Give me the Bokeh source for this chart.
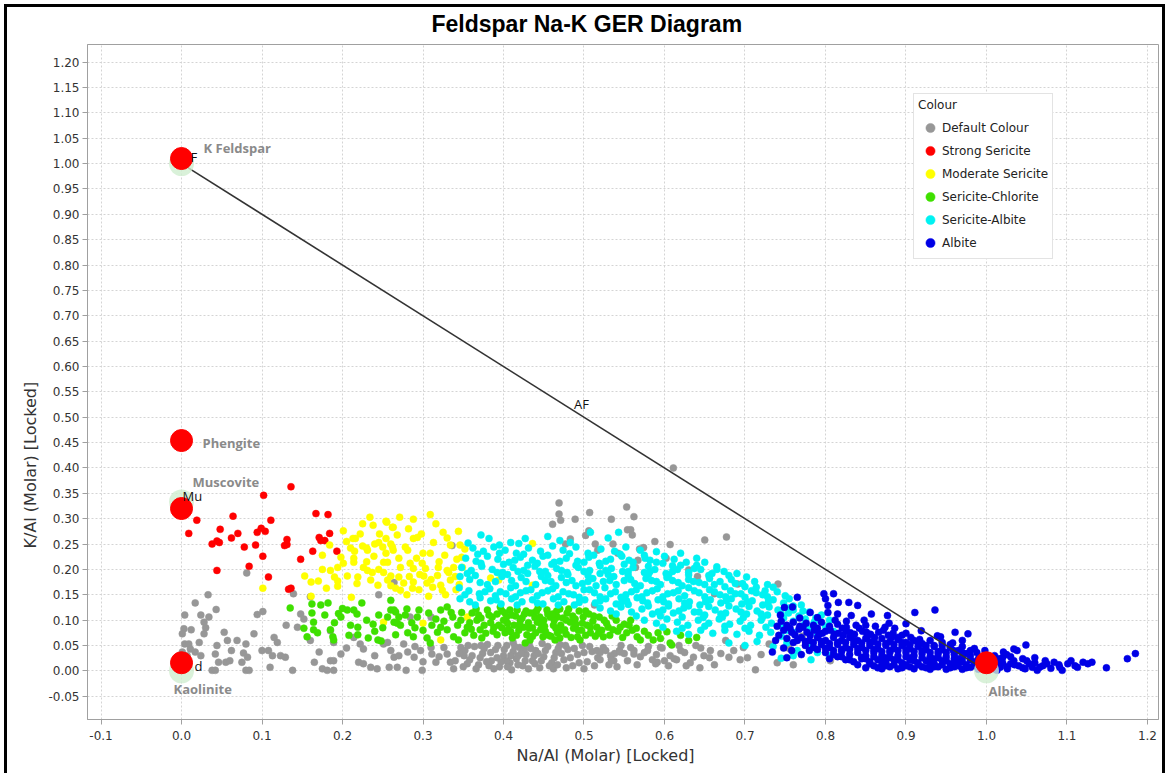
from bokeh.plotting import figure
from bokeh.models import (Range1d, FixedTicker, Legend, LegendItem,
                          NumeralTickFormatter, InlineStyleSheet, Title)
from bokeh.core.properties import value
from bokeh.embed import file_html
from bokeh.resources import INLINE

# ---------------------------------------------------------------------------
# Sample data: Na/Al (molar) vs K/Al (molar), grouped by alteration colour
# ---------------------------------------------------------------------------
default_colour = [
    (0.033, 0.150), (0.017, 0.134), (0.043, 0.121), (0.004, 0.110), (0.024, 0.110),
    (0.034, 0.106), (0.028, 0.096), (0.094, 0.111), (0.101, 0.117), (0.081, 0.193),
    (0.003, 0.083), (0.001, 0.073), (0.012, 0.081), (0.028, 0.073), (0.004, 0.053),
    (0.009, 0.053), (0.011, 0.043), (0.001, 0.037), (0.007, 0.030), (0.022, 0.056),
    (0.017, 0.037), (0.024, 0.030), (0.044, 0.050), (0.042, 0.033), (0.053, 0.076),
    (0.057, 0.060), (0.055, 0.017), (0.046, 0.017), (0.038, 0.001), (0.042, 0.001),
    (0.069, 0.060), (0.062, 0.040), (0.077, 0.035), (0.082, 0.027), (0.075, 0.017),
    (0.080, 0.001), (0.084, 0.001), (0.080, 0.053), (0.090, 0.073), (0.108, 0.040),
    (0.113, 0.030), (0.115, 0.066), (0.119, 0.056), (0.110, 0.007), (0.123, 0.030),
    (0.129, 0.027), (0.138, 0.001), (0.144, 0.086), (0.139, 0.152), (0.160, 0.146),
    (0.148, 0.112), (0.152, 0.102), (0.171, 0.037), (0.165, 0.017), (0.175, 0.004),
    (0.181, 0.001), (0.189, 0.001), (0.185, 0.020), (0.189, 0.020), (0.198, 0.033),
    (0.185, 0.079), (0.189, 0.056), (0.214, 0.066), (0.222, 0.053), (0.226, 0.043),
    (0.220, 0.017), (0.226, 0.014), (0.235, 0.007), (0.243, 0.004), (0.245, 0.150),
    (0.251, 0.053), (0.260, 0.040), (0.264, 0.027), (0.258, 0.007), (0.264, 0.174),
    (0.336, 0.247), (0.284, 0.106), (0.310, 0.106), (0.256, 0.056), (0.268, 0.007),
    (0.276, 0.053), (0.281, 0.037), (0.279, 0.001), (0.289, 0.027), (0.299, 0.001),
    (0.297, 0.040), (0.311, 0.033), (0.316, 0.017), (0.326, 0.046), (0.330, 0.033),
    (0.334, 0.017), (0.338, 0.004), (0.347, 0.046), (0.351, 0.030), (0.355, 0.014),
    (0.352, 0.040), (0.358, 0.022), (0.364, 0.048), (0.369, 0.012), (0.374, 0.034),
    (0.380, 0.052), (0.385, 0.020), (0.390, 0.042), (0.395, 0.008), (0.400, 0.030),
    (0.404, 0.050), (0.408, 0.016), (0.412, 0.038), (0.416, 0.024), (0.420, 0.046),
    (0.424, 0.010), (0.428, 0.032), (0.432, 0.052), (0.436, 0.020), (0.440, 0.040),
    (0.445, 0.006), (0.450, 0.028), (0.455, 0.048), (0.460, 0.016), (0.465, 0.036),
    (0.470, 0.052), (0.475, 0.022), (0.480, 0.042), (0.486, 0.010), (0.492, 0.032),
    (0.498, 0.050), (0.504, 0.018), (0.510, 0.038), (0.517, 0.026), (0.524, 0.046),
    (0.531, 0.012), (0.538, 0.034), (0.546, 0.050), (0.554, 0.020), (0.562, 0.040),
    (0.570, 0.028), (0.580, 0.048), (0.590, 0.032), (0.600, 0.020), (0.410, 0.002),
    (0.418, 0.030), (0.426, 0.042), (0.438, 0.030), (0.392, 0.026), (0.382, 0.010),
    (0.372, 0.050), (0.462, 0.004), (0.478, 0.006), (0.500, 0.004), (0.448, 0.054),
    (0.412, 0.056), (0.520, 0.036), (0.544, 0.040), (0.468, 0.044), (0.404, 0.020),
    (0.516, 0.040), (0.533, 0.030), (0.537, 0.020), (0.545, 0.037), (0.562, 0.033),
    (0.579, 0.040), (0.591, 0.017), (0.607, 0.030), (0.612, 0.024), (0.469, 0.331),
    (0.469, 0.309), (0.471, 0.297), (0.461, 0.289), (0.507, 0.312), (0.489, 0.299),
    (0.483, 0.260), (0.477, 0.250), (0.506, 0.276), (0.502, 0.267), (0.611, 0.400),
    (0.553, 0.323), (0.534, 0.299), (0.562, 0.304), (0.554, 0.278), (0.558, 0.278),
    (0.560, 0.268), (0.514, 0.250), (0.517, 0.238), (0.536, 0.250), (0.542, 0.232),
    (0.569, 0.240), (0.574, 0.243), (0.588, 0.255), (0.607, 0.249), (0.567, 0.218),
    (0.564, 0.204), (0.602, 0.222), (0.630, 0.199), (0.641, 0.186), (0.650, 0.258),
    (0.677, 0.264), (0.691, 0.171), (0.741, 0.171), (0.662, 0.152), (0.513, 0.130),
    (0.771, 0.068), (0.597, 0.045), (0.620, 0.040), (0.615, 0.022), (0.589, 0.014),
    (0.639, 0.050), (0.645, 0.045), (0.636, 0.027), (0.649, 0.030), (0.657, 0.040),
    (0.656, 0.026), (0.676, 0.060), (0.680, 0.027), (0.694, 0.022), (0.703, 0.026),
    (0.713, 0.002), (0.730, 0.053), (0.806, 0.020), (0.698, 0.046), (0.627, 0.010),
    (0.340, 0.020), (0.345, 0.034), (0.350, 0.008), (0.356, 0.050), (0.361, 0.030),
    (0.366, 0.004), (0.371, 0.026), (0.376, 0.044), (0.379, 0.018), (0.384, 0.036),
    (0.388, 0.004), (0.393, 0.050), (0.397, 0.018), (0.401, 0.042), (0.405, 0.008),
    (0.409, 0.030), (0.414, 0.048), (0.418, 0.012), (0.422, 0.034), (0.427, 0.020),
    (0.431, 0.004), (0.434, 0.044), (0.439, 0.014), (0.443, 0.034), (0.447, 0.020),
    (0.452, 0.040), (0.457, 0.010), (0.463, 0.026), (0.467, 0.012), (0.472, 0.034),
    (0.477, 0.050), (0.483, 0.026), (0.488, 0.044), (0.494, 0.016), (0.500, 0.036),
    (0.507, 0.048), (0.513, 0.010), (0.520, 0.022), (0.527, 0.040), (0.534, 0.022),
    (0.541, 0.008), (0.550, 0.034), (0.558, 0.046), (0.566, 0.012), (0.575, 0.036),
    (0.585, 0.022), (0.595, 0.046), (0.605, 0.010), (0.618, 0.050), (0.625, 0.036),
    (0.632, 0.016), (0.644, 0.006), (0.662, 0.012), (0.670, 0.034), (0.686, 0.040),
    (0.720, 0.032), (0.740, 0.016), (0.755, 0.044), (0.760, 0.012), (0.310, 0.046),
    (0.320, 0.028), (0.300, 0.018), (0.290, 0.048), (0.270, 0.030), (0.240, 0.030),
    (0.205, 0.045), (0.160, 0.060), (0.130, 0.090), (0.100, 0.040), (0.060, 0.020),
    (0.030, 0.085),
]

strong_sericite = [
    (0.136, 0.363), (0.102, 0.346), (0.019, 0.297), (0.064, 0.305), (0.009, 0.271),
    (0.048, 0.279), (0.070, 0.271), (0.062, 0.262), (0.044, 0.256), (0.047, 0.253),
    (0.038, 0.250), (0.078, 0.244), (0.092, 0.248), (0.094, 0.273), (0.099, 0.281),
    (0.104, 0.275), (0.111, 0.297), (0.101, 0.226), (0.084, 0.206), (0.044, 0.198),
    (0.108, 0.185), (0.133, 0.161), (0.136, 0.163), (0.148, 0.220), (0.163, 0.236),
    (0.131, 0.259), (0.131, 0.249), (0.128, 0.247), (0.171, 0.263), (0.173, 0.257),
    (0.178, 0.257), (0.167, 0.310), (0.182, 0.308), (0.184, 0.271), (0.193, 0.236),
]

moderate_sericite = [
    (0.201, 0.276), (0.213, 0.261), (0.216, 0.261), (0.234, 0.303), (0.238, 0.287),
    (0.254, 0.295), (0.262, 0.283), (0.254, 0.261), (0.184, 0.248), (0.210, 0.242),
    (0.215, 0.236), (0.225, 0.246), (0.230, 0.242), (0.231, 0.238), (0.245, 0.253),
    (0.250, 0.244), (0.262, 0.244), (0.263, 0.238), (0.175, 0.228), (0.198, 0.224),
    (0.201, 0.212), (0.214, 0.222), (0.214, 0.214), (0.239, 0.226), (0.254, 0.232),
    (0.256, 0.214), (0.194, 0.204), (0.185, 0.198), (0.226, 0.204), (0.231, 0.198),
    (0.237, 0.194), (0.153, 0.187), (0.161, 0.175), (0.170, 0.177), (0.206, 0.187),
    (0.219, 0.185), (0.251, 0.194), (0.260, 0.187), (0.180, 0.163), (0.194, 0.177),
    (0.194, 0.167), (0.235, 0.179), (0.244, 0.169), (0.161, 0.147), (0.211, 0.145),
    (0.101, 0.163), (0.251, 0.096), (0.255, 0.293), (0.271, 0.303), (0.288, 0.299),
    (0.309, 0.308), (0.263, 0.283), (0.288, 0.261), (0.293, 0.263), (0.325, 0.273),
    (0.344, 0.275), (0.278, 0.244), (0.281, 0.238), (0.260, 0.250), (0.300, 0.232),
    (0.309, 0.232), (0.313, 0.253), (0.334, 0.248), (0.346, 0.248), (0.348, 0.224),
    (0.342, 0.220), (0.251, 0.214), (0.270, 0.222), (0.272, 0.204), (0.284, 0.212),
    (0.288, 0.202), (0.299, 0.212), (0.303, 0.202), (0.319, 0.204), (0.330, 0.198),
    (0.338, 0.204), (0.349, 0.204), (0.256, 0.179), (0.270, 0.185), (0.276, 0.173),
    (0.288, 0.175), (0.287, 0.163), (0.301, 0.187), (0.305, 0.173), (0.312, 0.165),
    (0.322, 0.169), (0.324, 0.159), (0.334, 0.179), (0.332, 0.194), (0.266, 0.163),
    (0.272, 0.159), (0.307, 0.147), (0.384, 0.183), (0.394, 0.179), (0.436, 0.169),
    (0.436, 0.251), (0.300, 0.094), (0.322, 0.061), (0.355, 0.106), (0.318, 0.188),
    (0.340, 0.186), (0.296, 0.190), (0.283, 0.186), (0.327, 0.228), (0.292, 0.222),
    (0.246, 0.270), (0.225, 0.290), (0.341, 0.160), (0.345, 0.170),
    (0.205, 0.255), (0.222, 0.270), (0.240, 0.250), (0.268, 0.268), (0.282, 0.280),
    (0.298, 0.270), (0.316, 0.290), (0.330, 0.262), (0.352, 0.240), (0.320, 0.215),
    (0.310, 0.180), (0.295, 0.160), (0.280, 0.150), (0.260, 0.168), (0.245, 0.200),
    (0.230, 0.215), (0.218, 0.172), (0.190, 0.185), (0.175, 0.200), (0.328, 0.150),
]

sericite_chlorite = [
    (0.135, 0.124), (0.162, 0.132), (0.173, 0.130), (0.182, 0.134), (0.162, 0.114),
    (0.164, 0.096), (0.152, 0.084), (0.156, 0.067), (0.164, 0.081), (0.169, 0.075),
    (0.185, 0.081), (0.188, 0.067), (0.189, 0.061), (0.198, 0.106), (0.206, 0.120),
    (0.214, 0.120), (0.218, 0.112), (0.224, 0.134), (0.219, 0.086), (0.219, 0.071),
    (0.238, 0.092), (0.244, 0.061), (0.248, 0.059), (0.260, 0.139), (0.264, 0.120),
    (0.264, 0.096), (0.268, 0.094), (0.200, 0.123), (0.260, 0.120), (0.266, 0.116),
    (0.256, 0.106), (0.270, 0.106), (0.272, 0.090), (0.281, 0.075), (0.288, 0.067),
    (0.266, 0.071), (0.305, 0.065), (0.309, 0.055), (0.293, 0.106), (0.307, 0.114),
    (0.322, 0.120), (0.330, 0.126), (0.337, 0.106), (0.322, 0.086), (0.330, 0.081),
    (0.338, 0.067), (0.344, 0.061), (0.347, 0.100), (0.355, 0.086), (0.361, 0.114),
    (0.367, 0.100), (0.371, 0.081), (0.373, 0.065), (0.380, 0.120), (0.386, 0.106),
    (0.388, 0.086), (0.392, 0.071), (0.396, 0.126), (0.402, 0.114), (0.405, 0.094),
    (0.409, 0.077), (0.411, 0.065), (0.417, 0.120), (0.423, 0.104), (0.425, 0.086),
    (0.429, 0.071), (0.433, 0.061), (0.437, 0.114), (0.442, 0.096), (0.446, 0.081),
    (0.449, 0.067), (0.454, 0.120), (0.458, 0.106), (0.462, 0.090), (0.467, 0.075),
    (0.470, 0.065), (0.479, 0.114), (0.483, 0.096), (0.487, 0.084), (0.492, 0.067),
    (0.499, 0.106), (0.504, 0.090), (0.508, 0.075), (0.516, 0.086), (0.524, 0.067),
    (0.536, 0.081), (0.545, 0.086), (0.553, 0.075), (0.566, 0.067), (0.570, 0.061),
    (0.586, 0.061), (0.607, 0.055), (0.404, 0.106), (0.421, 0.100), (0.433, 0.114),
    (0.450, 0.100), (0.467, 0.106), (0.402, 0.075), (0.427, 0.055), (0.440, 0.075),
    (0.464, 0.061), (0.476, 0.081), (0.495, 0.061), (0.592, 0.075), (0.603, 0.077),
    (0.609, 0.051), (0.384, 0.095), (0.392, 0.112), (0.398, 0.085), (0.400, 0.100),
    (0.408, 0.120), (0.413, 0.090), (0.415, 0.108), (0.419, 0.080), (0.428, 0.118),
    (0.431, 0.095), (0.436, 0.085), (0.439, 0.105), (0.443, 0.124), (0.447, 0.092),
    (0.452, 0.078), (0.455, 0.112), (0.459, 0.068), (0.463, 0.100), (0.466, 0.118),
    (0.471, 0.090), (0.474, 0.104), (0.478, 0.072), (0.481, 0.122), (0.486, 0.108),
    (0.490, 0.092), (0.494, 0.118), (0.497, 0.080), (0.502, 0.070), (0.506, 0.112),
    (0.511, 0.098), (0.514, 0.068), (0.519, 0.106), (0.522, 0.080), (0.528, 0.094),
    (0.532, 0.070), (0.540, 0.100), (0.548, 0.066), (0.556, 0.090), (0.560, 0.080),
    (0.575, 0.078), (0.348, 0.115), (0.352, 0.075), (0.358, 0.095), (0.363, 0.070),
    (0.369, 0.110), (0.376, 0.090), (0.378, 0.074), (0.311, 0.090), (0.316, 0.102),
    (0.326, 0.098), (0.300, 0.080), (0.295, 0.120), (0.286, 0.095), (0.278, 0.110),
    (0.240, 0.078), (0.230, 0.100), (0.250, 0.085), (0.178, 0.110), (0.190, 0.095),
    (0.208, 0.070),
    (0.382, 0.110), (0.387, 0.078), (0.394, 0.090), (0.398, 0.118), (0.406, 0.082),
    (0.410, 0.110), (0.416, 0.070), (0.420, 0.092), (0.426, 0.112), (0.432, 0.084),
    (0.436, 0.068), (0.441, 0.118), (0.445, 0.106), (0.451, 0.088), (0.456, 0.070),
    (0.461, 0.112), (0.465, 0.084), (0.470, 0.122), (0.473, 0.080), (0.478, 0.100),
    (0.484, 0.066), (0.489, 0.102), (0.493, 0.080), (0.498, 0.094), (0.502, 0.118),
    (0.508, 0.086), (0.512, 0.108), (0.518, 0.074), (0.525, 0.100), (0.530, 0.086),
    (0.535, 0.108), (0.542, 0.078), (0.550, 0.092), (0.558, 0.100), (0.565, 0.084),
    (0.580, 0.070), (0.595, 0.064), (0.620, 0.070), (0.630, 0.060), (0.640, 0.066),
    (0.360, 0.082), (0.366, 0.122), (0.372, 0.104), (0.343, 0.090), (0.335, 0.115),
    (0.318, 0.076), (0.290, 0.085), (0.280, 0.122), (0.245, 0.110), (0.232, 0.065),
    (0.210, 0.090), (0.195, 0.113),
]

sericite_albite = [
    (0.382, 0.261), (0.427, 0.261), (0.470, 0.257), (0.483, 0.253), (0.508, 0.273),
    (0.543, 0.273), (0.409, 0.253), (0.419, 0.251), (0.395, 0.248), (0.455, 0.265),
    (0.372, 0.268), (0.530, 0.262),
    (0.362, 0.242), (0.375, 0.236), (0.388, 0.244), (0.402, 0.238), (0.416, 0.232),
    (0.431, 0.242), (0.446, 0.236), (0.461, 0.246), (0.474, 0.238), (0.490, 0.244),
    (0.505, 0.232), (0.521, 0.240), (0.538, 0.236), (0.552, 0.244), (0.570, 0.238),
    (0.356, 0.252), (0.590, 0.235),
    (0.353, 0.222), (0.366, 0.216), (0.380, 0.226), (0.393, 0.220), (0.407, 0.214),
    (0.421, 0.224), (0.436, 0.218), (0.449, 0.226), (0.463, 0.214), (0.478, 0.222),
    (0.492, 0.216), (0.506, 0.224), (0.519, 0.212), (0.533, 0.220), (0.547, 0.226),
    (0.561, 0.214), (0.576, 0.222), (0.582, 0.218), (0.598, 0.212), (0.612, 0.220),
    (0.627, 0.214), (0.640, 0.208),
    (0.348, 0.204), (0.360, 0.198), (0.373, 0.206), (0.386, 0.200), (0.399, 0.194),
    (0.412, 0.204), (0.425, 0.198), (0.439, 0.206), (0.452, 0.196), (0.466, 0.202),
    (0.479, 0.194), (0.493, 0.204), (0.507, 0.198), (0.520, 0.192), (0.534, 0.202),
    (0.548, 0.196), (0.561, 0.204), (0.575, 0.194), (0.588, 0.200), (0.602, 0.192),
    (0.616, 0.200), (0.630, 0.194), (0.645, 0.200), (0.659, 0.192), (0.674, 0.196),
    (0.346, 0.186), (0.358, 0.180), (0.371, 0.174), (0.398, 0.186), (0.410, 0.178),
    (0.422, 0.184), (0.447, 0.186), (0.459, 0.176), (0.472, 0.184), (0.485, 0.178),
    (0.498, 0.172), (0.511, 0.182), (0.524, 0.176), (0.537, 0.186), (0.550, 0.178),
    (0.563, 0.172), (0.577, 0.182), (0.590, 0.176), (0.603, 0.184), (0.617, 0.174),
    (0.630, 0.180), (0.643, 0.174), (0.656, 0.182), (0.669, 0.176), (0.683, 0.180),
    (0.697, 0.172), (0.702, 0.185), (0.714, 0.165),
    (0.345, 0.164), (0.357, 0.158), (0.370, 0.152), (0.383, 0.162), (0.396, 0.156),
    (0.409, 0.164), (0.421, 0.154), (0.434, 0.160), (0.448, 0.154), (0.461, 0.162),
    (0.474, 0.156), (0.487, 0.150), (0.500, 0.160), (0.513, 0.154), (0.526, 0.164),
    (0.539, 0.156), (0.552, 0.150), (0.565, 0.160), (0.578, 0.154), (0.591, 0.162),
    (0.604, 0.152), (0.617, 0.158), (0.630, 0.164), (0.643, 0.154), (0.656, 0.160),
    (0.669, 0.150), (0.682, 0.158), (0.695, 0.152), (0.708, 0.158), (0.722, 0.150),
    (0.735, 0.165),
    (0.346, 0.142), (0.358, 0.136), (0.371, 0.144), (0.384, 0.138), (0.397, 0.132),
    (0.410, 0.142), (0.423, 0.136), (0.436, 0.140), (0.449, 0.132), (0.462, 0.142),
    (0.475, 0.136), (0.488, 0.130), (0.501, 0.140), (0.514, 0.134), (0.527, 0.142),
    (0.540, 0.132), (0.553, 0.138), (0.566, 0.144), (0.579, 0.134), (0.592, 0.140),
    (0.605, 0.132), (0.618, 0.142), (0.631, 0.136), (0.644, 0.130), (0.657, 0.140),
    (0.670, 0.134), (0.683, 0.142), (0.696, 0.132), (0.709, 0.138), (0.722, 0.130),
    (0.735, 0.140), (0.748, 0.134), (0.760, 0.128),
    (0.520, 0.124), (0.533, 0.118), (0.546, 0.126), (0.559, 0.116), (0.572, 0.122),
    (0.585, 0.112), (0.598, 0.120), (0.611, 0.114), (0.624, 0.124), (0.637, 0.116),
    (0.650, 0.110), (0.663, 0.120), (0.676, 0.114), (0.689, 0.122), (0.702, 0.112),
    (0.715, 0.118), (0.728, 0.110), (0.741, 0.120), (0.754, 0.114), (0.767, 0.108),
    (0.780, 0.116), (0.795, 0.110),
    (0.575, 0.100), (0.590, 0.094), (0.603, 0.102), (0.616, 0.096), (0.629, 0.090),
    (0.642, 0.100), (0.655, 0.094), (0.668, 0.102), (0.681, 0.092), (0.694, 0.098),
    (0.707, 0.090), (0.720, 0.100), (0.733, 0.094), (0.746, 0.088), (0.760, 0.098),
    (0.773, 0.090), (0.786, 0.096), (0.800, 0.088),
    (0.615, 0.078), (0.630, 0.072), (0.645, 0.080), (0.660, 0.074), (0.675, 0.080),
    (0.690, 0.072), (0.705, 0.078), (0.718, 0.070), (0.732, 0.076), (0.745, 0.068),
    (0.760, 0.076), (0.790, 0.070), (0.810, 0.078),
    (0.680, 0.055), (0.700, 0.050), (0.715, 0.058), (0.735, 0.048), (0.752, 0.055),
    (0.765, 0.040), (0.778, 0.050), (0.790, 0.036), (0.760, 0.030), (0.782, 0.022),
    (0.805, 0.030), (0.745, 0.025),
    (0.405, 0.190), (0.430, 0.192), (0.455, 0.188), (0.480, 0.190), (0.505, 0.188),
    (0.530, 0.190), (0.555, 0.188), (0.580, 0.190), (0.605, 0.188), (0.630, 0.189),
    (0.655, 0.188), (0.680, 0.188),
    (0.380, 0.170), (0.415, 0.168), (0.440, 0.170), (0.465, 0.168), (0.490, 0.168),
    (0.515, 0.168), (0.540, 0.170), (0.570, 0.168), (0.595, 0.170), (0.622, 0.168),
    (0.650, 0.170), (0.675, 0.166), (0.700, 0.166), (0.725, 0.158),
    (0.390, 0.148), (0.415, 0.146), (0.442, 0.148), (0.468, 0.146), (0.494, 0.145),
    (0.520, 0.146), (0.546, 0.145), (0.572, 0.146), (0.598, 0.146), (0.625, 0.148),
    (0.650, 0.146), (0.676, 0.146), (0.700, 0.145), (0.728, 0.146), (0.750, 0.148),
    (0.555, 0.131), (0.580, 0.128), (0.605, 0.128), (0.630, 0.128), (0.655, 0.127),
    (0.680, 0.128), (0.705, 0.127), (0.730, 0.126), (0.760, 0.120),
    (0.595, 0.108), (0.622, 0.106), (0.648, 0.105), (0.672, 0.106), (0.698, 0.105),
    (0.722, 0.106), (0.748, 0.104), (0.775, 0.102),
    (0.400, 0.210), (0.430, 0.208), (0.460, 0.210), (0.490, 0.208), (0.520, 0.207),
    (0.550, 0.210), (0.580, 0.206), (0.610, 0.207), (0.640, 0.222),
    (0.368, 0.230), (0.395, 0.232), (0.425, 0.230), (0.455, 0.228), (0.482, 0.231),
    (0.512, 0.228), (0.545, 0.230), (0.575, 0.228), (0.600, 0.226), (0.620, 0.232),
    (0.372, 0.212), (0.414, 0.218), (0.442, 0.212), (0.470, 0.216), (0.500, 0.214),
    (0.527, 0.216), (0.556, 0.218), (0.590, 0.214), (0.620, 0.208), (0.650, 0.214),
    (0.665, 0.205),
    (0.355, 0.192), (0.392, 0.194), (0.418, 0.196), (0.445, 0.196), (0.472, 0.198),
    (0.500, 0.196), (0.527, 0.198), (0.555, 0.196), (0.582, 0.196), (0.610, 0.196),
    (0.637, 0.202), (0.665, 0.200), (0.690, 0.192),
    (0.365, 0.188), (0.390, 0.176), (0.428, 0.176), (0.452, 0.178), (0.478, 0.174),
    (0.505, 0.176), (0.532, 0.178), (0.558, 0.180), (0.584, 0.178), (0.610, 0.178),
    (0.636, 0.176), (0.662, 0.170), (0.688, 0.172), (0.712, 0.176), (0.728, 0.170),
    (0.352, 0.150), (0.377, 0.156), (0.403, 0.152), (0.428, 0.158), (0.455, 0.158),
    (0.481, 0.152), (0.507, 0.160), (0.533, 0.152), (0.559, 0.156), (0.585, 0.158),
    (0.611, 0.154), (0.637, 0.158), (0.662, 0.156), (0.688, 0.152), (0.714, 0.154),
    (0.740, 0.156), (0.755, 0.142),
    (0.365, 0.130), (0.391, 0.140), (0.417, 0.130), (0.442, 0.134), (0.468, 0.130),
    (0.494, 0.135), (0.520, 0.138), (0.547, 0.136), (0.573, 0.138), (0.599, 0.136),
    (0.625, 0.134), (0.651, 0.136), (0.677, 0.138), (0.703, 0.136), (0.729, 0.136),
    (0.754, 0.124), (0.770, 0.130),
    (0.540, 0.112), (0.565, 0.108), (0.592, 0.116), (0.618, 0.118), (0.643, 0.116),
    (0.670, 0.112), (0.695, 0.116), (0.720, 0.112), (0.745, 0.112), (0.772, 0.118),
    (0.788, 0.104),
    (0.598, 0.086), (0.622, 0.084), (0.650, 0.088), (0.675, 0.088), (0.700, 0.084),
    (0.726, 0.086), (0.752, 0.080), (0.780, 0.082), (0.805, 0.100),
]

albite = [
    (0.765, 0.145), (0.798, 0.152), (0.800, 0.142), (0.810, 0.152), (0.816, 0.135),
    (0.829, 0.135), (0.840, 0.129), (0.803, 0.129), (0.749, 0.125), (0.759, 0.126),
    (0.781, 0.115), (0.803, 0.115), (0.815, 0.112), (0.832, 0.109), (0.857, 0.112),
    (0.877, 0.109), (0.911, 0.115), (0.936, 0.120), (0.848, 0.100), (0.879, 0.094),
    (0.900, 0.093), (0.919, 0.079), (0.900, 0.074), (0.939, 0.069), (0.943, 0.067),
    (0.961, 0.076), (0.977, 0.073), (0.970, 0.060), (1.049, 0.051), (1.034, 0.043),
    (1.038, 0.040), (1.021, 0.037), (0.959, 0.040), (0.980, 0.040),
    (1.073, 0.020), (1.084, 0.017), (1.105, 0.020), (1.101, 0.014), (1.113, 0.007),
    (1.126, 0.014), (1.131, 0.017), (1.149, 0.006), (1.175, 0.024), (1.185, 0.034),
    (1.091, 0.007), (1.094, 0.001), (1.066, 0.007), (1.063, 0.001), (1.053, 0.014),
    (1.057, 0.007), (1.048, 0.004), (1.030, 0.014), (1.034, 0.020), (1.026, 0.004),
    (1.017, 0.007), (1.015, 0.017), (1.009, 0.004), (1.013, 0.001),
    (0.745, 0.098), (0.752, 0.090), (0.760, 0.096), (0.768, 0.088), (0.776, 0.094),
    (0.785, 0.090), (0.795, 0.096), (0.805, 0.088), (0.815, 0.092), (0.826, 0.086),
    (0.838, 0.090),
    (0.748, 0.080), (0.758, 0.076), (0.767, 0.082), (0.777, 0.076), (0.786, 0.080),
    (0.796, 0.074), (0.806, 0.080), (0.816, 0.074), (0.826, 0.078), (0.836, 0.072),
    (0.846, 0.078), (0.856, 0.072), (0.866, 0.076), (0.878, 0.070), (0.890, 0.066),
    (0.752, 0.064), (0.770, 0.066), (0.780, 0.060), (0.790, 0.066), (0.800, 0.060),
    (0.810, 0.066), (0.820, 0.060), (0.830, 0.066), (0.840, 0.060), (0.850, 0.064),
    (0.860, 0.058), (0.870, 0.064), (0.880, 0.058), (0.890, 0.062), (0.900, 0.056),
    (0.910, 0.060), (0.920, 0.054),
    (0.775, 0.050), (0.785, 0.046), (0.795, 0.052), (0.805, 0.046), (0.815, 0.052),
    (0.825, 0.046), (0.835, 0.052), (0.845, 0.046), (0.855, 0.050), (0.865, 0.044),
    (0.875, 0.050), (0.885, 0.044), (0.895, 0.050), (0.905, 0.044), (0.915, 0.048),
    (0.925, 0.042), (0.935, 0.048), (0.945, 0.042), (0.955, 0.046), (0.965, 0.040),
    (0.800, 0.036), (0.810, 0.032), (0.820, 0.038), (0.830, 0.032), (0.840, 0.036),
    (0.850, 0.030), (0.860, 0.036), (0.870, 0.030), (0.880, 0.036), (0.890, 0.030),
    (0.900, 0.036), (0.910, 0.030), (0.920, 0.034), (0.930, 0.028), (0.940, 0.034),
    (0.950, 0.028), (0.960, 0.032), (0.970, 0.026), (0.980, 0.030), (0.990, 0.024),
    (0.825, 0.022), (0.835, 0.018), (0.845, 0.024), (0.855, 0.018), (0.865, 0.022),
    (0.875, 0.016), (0.885, 0.022), (0.895, 0.016), (0.905, 0.022), (0.915, 0.016),
    (0.925, 0.020), (0.935, 0.014), (0.945, 0.020), (0.955, 0.014), (0.965, 0.018),
    (0.975, 0.012), (0.985, 0.018), (0.995, 0.012), (1.005, 0.020), (1.020, 0.026),
    (1.045, 0.024), (1.060, 0.026),
    (0.850, 0.006), (0.860, 0.010), (0.870, 0.004), (0.880, 0.008), (0.890, 0.004),
    (0.900, 0.010), (0.910, 0.004), (0.920, 0.008), (0.930, 0.003), (0.940, 0.008),
    (0.950, 0.003), (0.960, 0.008), (0.970, 0.003), (0.980, 0.007), (0.990, 0.003),
    (1.000, 0.006), (1.040, 0.010), (1.070, 0.010), (1.080, 0.005),
    (0.762, 0.071), (0.792, 0.072), (0.822, 0.070), (0.852, 0.068), (0.882, 0.066),
    (0.760, 0.056), (0.785, 0.056), (0.815, 0.056), (0.845, 0.055), (0.875, 0.054),
    (0.905, 0.052), (0.935, 0.050),
    (0.790, 0.042), (0.820, 0.042), (0.850, 0.040), (0.880, 0.040), (0.910, 0.038),
    (0.940, 0.038), (0.970, 0.036), (1.000, 0.030),
    (0.815, 0.028), (0.845, 0.027), (0.875, 0.026), (0.905, 0.026), (0.935, 0.024),
    (0.965, 0.024), (0.995, 0.022),
    (0.840, 0.012), (0.870, 0.012), (0.900, 0.012), (0.930, 0.010), (0.960, 0.012),
    (0.990, 0.010), (1.010, 0.012), (1.025, 0.008),
    (0.742, 0.070), (0.740, 0.088), (0.738, 0.060), (0.734, 0.037), (0.752, 0.026),
    (0.756, 0.084), (0.772, 0.086), (0.781, 0.070), (0.790, 0.084), (0.800, 0.078),
    (0.811, 0.072), (0.821, 0.084), (0.831, 0.075), (0.842, 0.084), (0.851, 0.076),
    (0.861, 0.066), (0.872, 0.080), (0.884, 0.074), (0.895, 0.070), (0.906, 0.066),
    (0.917, 0.062), (0.930, 0.060), (0.945, 0.056), (0.958, 0.055),
    (0.765, 0.060), (0.775, 0.058), (0.795, 0.058), (0.805, 0.054), (0.825, 0.056),
    (0.835, 0.060), (0.855, 0.057), (0.865, 0.053), (0.885, 0.052), (0.895, 0.056),
    (0.915, 0.055), (0.925, 0.050), (0.945, 0.050), (0.955, 0.052), (0.970, 0.048),
    (0.985, 0.044), (0.998, 0.040),
    (0.780, 0.040), (0.800, 0.044), (0.810, 0.040), (0.830, 0.042), (0.840, 0.044),
    (0.860, 0.042), (0.870, 0.038), (0.890, 0.040), (0.900, 0.042), (0.920, 0.040),
    (0.930, 0.036), (0.950, 0.036), (0.960, 0.038), (0.975, 0.034), (0.988, 0.036),
    (1.010, 0.030), (1.025, 0.032),
    (0.805, 0.024), (0.820, 0.028), (0.830, 0.022), (0.850, 0.024), (0.860, 0.028),
    (0.870, 0.020), (0.880, 0.026), (0.890, 0.022), (0.900, 0.028), (0.910, 0.020),
    (0.920, 0.026), (0.930, 0.020), (0.940, 0.026), (0.950, 0.020), (0.960, 0.024),
    (0.970, 0.018), (0.980, 0.022), (0.990, 0.016), (1.015, 0.024), (1.030, 0.028),
    (1.050, 0.020),
    (0.855, 0.014), (0.865, 0.006), (0.875, 0.010), (0.885, 0.012), (0.895, 0.006),
    (0.905, 0.008), (0.915, 0.012), (0.925, 0.006), (0.935, 0.008), (0.945, 0.012),
    (0.955, 0.006), (0.965, 0.010), (0.975, 0.006), (0.985, 0.010), (0.995, 0.006),
    (1.020, 0.016), (1.035, 0.012), (1.045, 0.006), (1.060, 0.016), (1.075, 0.014),
    (1.090, 0.012), (1.110, 0.010), (1.120, 0.017),
    (0.748, 0.045), (0.758, 0.040), (0.770, 0.032), (0.744, 0.110), (0.768, 0.104),
    (0.790, 0.105), (0.812, 0.100), (0.826, 0.098), (0.850, 0.090), (0.862, 0.088),
    (0.874, 0.086), (0.886, 0.084),
]

# Mineral reference nodes
mineral_names = ["K Feldspar", "Phengite", "Muscovite", "Kaolinite", "Albite"]
mineral_x = [0.0, 0.0, 0.0, 0.0, 1.0]
mineral_y = [1.010, 0.454, 0.320, 0.016, 0.016]

# End-member nodes of the feldspar join
end_member_names = ["F", "Mu", "d", ""]
end_member_x = [0.0, 0.0, 0.0, 1.0]
end_member_y = [1.0, 0.333, 0.0, 0.0]

# Alkali-feldspar join
af_x = [0.0, 1.0]
af_y = [1.0, 0.0]

x_ticks = [-0.1, 0.0, 0.1, 0.2, 0.3, 0.4, 0.5, 0.6, 0.7, 0.8, 0.9, 1.0, 1.1, 1.2]
y_ticks = [-0.05, 0.0, 0.05, 0.1, 0.15, 0.2, 0.25, 0.3, 0.35, 0.4, 0.45, 0.5, 0.55,
           0.6, 0.65, 0.7, 0.75, 0.8, 0.85, 0.9, 0.95, 1.0, 1.05, 1.1, 1.15, 1.2]

groups = [
    ("Default Colour", default_colour, "#979797"),
    ("Strong Sericite", strong_sericite, "#ff0000"),
    ("Moderate Sericite", moderate_sericite, "#ffff00"),
    ("Sericite-Chlorite", sericite_chlorite, "#3fe000"),
    ("Sericite-Albite", sericite_albite, "#00f2f2"),
    ("Albite", albite, "#0000e6"),
]

# ---------------------------------------------------------------------------
p = figure(
    width=1167, height=773,
    x_range=Range1d(-0.1168, 1.2137), y_range=Range1d(-0.0959, 1.2348),
    output_backend="svg", toolbar_location=None,
    min_border_left=87, min_border_right=9, min_border_top=43, min_border_bottom=54,
    background_fill_color="white", border_fill_color="white",
)

# Black frame round the chart, painted above the canvas
p.stylesheets = [InlineStyleSheet(css="""
:host { position: relative; }
:host::after {
    content: "";
    position: absolute;
    left: 4px; top: 4px; right: 2px; bottom: -8px;
    border: 3px solid #000000;
    pointer-events: none;
    z-index: 1000;
}
""")]

p.title.text = "Feldspar Na-K GER Diagram"
p.title.text_font = "Liberation Sans"
p.title.text_font_size = "23px"
p.title.text_font_style = "bold"
p.title.text_color = "#000000"
p.title.align = "left"
p.title.offset = 344
p.title.standoff = 16

p.outline_line_color = "#a0a0a0"
p.outline_line_width = 1

for ax in (p.xaxis[0], p.yaxis[0]):
    ax.axis_line_color = "#a0a0a0"
    ax.major_tick_line_color = "#a0a0a0"
    ax.major_tick_out = 5
    ax.major_tick_in = 0
    ax.minor_tick_line_color = None
    ax.major_label_text_font = "DejaVu Sans"
    ax.major_label_text_font_size = "12px"
    ax.major_label_text_color = "#333333"

p.xaxis.ticker = FixedTicker(ticks=x_ticks)
p.yaxis.ticker = FixedTicker(ticks=y_ticks)
p.xaxis.formatter = NumeralTickFormatter(format="0.0")
p.yaxis.formatter = NumeralTickFormatter(format="0.00")
p.xaxis.major_label_standoff = 6
p.yaxis.major_label_standoff = 3

# Axis titles
x_title = Title(text="Na/Al (Molar) [Locked]", align="left", offset=429,
                vertical_align="top", standoff=7,
                text_font="DejaVu Sans", text_font_size="16px",
                text_font_style="normal", text_color="#333333")
p.add_layout(x_title, "below")
y_title = Title(text="K/Al (Molar) [Locked]", align="left", offset=171,
                vertical_align="bottom", standoff=11,
                text_font="DejaVu Sans", text_font_size="16px",
                text_font_style="normal", text_color="#333333")
p.add_layout(y_title, "left")

p.grid.grid_line_color = "#d4d4d4"
p.grid.grid_line_dash = "2 2"
p.grid.grid_line_width = 1

# Sample points
legend_items = []
for name, pts, colour in groups:
    xs = [pt[0] for pt in pts]
    ys = [pt[1] for pt in pts]
    r = p.scatter(xs, ys, size=7, fill_color=colour, line_color=colour, line_width=0.5)
    legend_items.append(LegendItem(label=name, renderers=[r]))

# Alkali-feldspar join
p.line(af_x, af_y, line_color="#333333", line_width=1.6)
p.text([0.5], [0.5], text=["AF"], x_offset=-10, y_offset=-13,
       text_font=value("Open Sans"), text_font_size="13px", text_color="#111111",
       text_baseline="middle", text_align="left")

# End-member halos
p.scatter(end_member_x, end_member_y, size=25, fill_color="#cfeecf",
          line_color=None, fill_alpha=0.8)

# Mineral nodes and names
p.scatter(mineral_x, mineral_y, size=22, fill_color="#ff0000", line_color="#ff0000")
name_offsets = {
    "K Feldspar": (22, -11),
    "Phengite": (21, 2),
    "Muscovite": (11, -27),
    "Kaolinite": (-8, 26),
    "Albite": (2, 28),
}
for name, x, y in zip(mineral_names, mineral_x, mineral_y):
    dx, dy = name_offsets[name]
    p.text([x], [y], text=[name], x_offset=dx, y_offset=dy,
           text_font=value("Open Sans"), text_font_style="bold", text_font_size="13px",
           text_color="#8a8a8a", text_baseline="middle", text_align="left")

# End-member tags, drawn above the nodes
tag_offsets = {"F": (9, -7), "Mu": (1, -6), "d": (13, -5)}
for name, x, y in zip(end_member_names, end_member_x, end_member_y):
    if not name:
        continue
    dx, dy = tag_offsets[name]
    p.text([x], [y], text=[name], x_offset=dx, y_offset=dy,
           text_font=value("Open Sans"), text_font_size="13px", text_color="#111111",
           text_baseline="middle", text_align="left")

legend = Legend(
    items=legend_items, location=(826, 460), title="Colour",
    title_text_font="DejaVu Sans", title_text_font_size="12px",
    title_text_font_style="normal", title_text_color="#222222", title_standoff=4,
    label_text_font="DejaVu Sans", label_text_font_size="12px", label_text_color="#222222",
    glyph_width=24, glyph_height=23, spacing=0, padding=4, label_standoff=0, margin=0,
    border_line_color="#c8c8c8", border_line_width=1,
    background_fill_color="white", background_fill_alpha=1.0,
)
p.add_layout(legend)

open("out.html", "w").write(file_html(p, INLINE))
